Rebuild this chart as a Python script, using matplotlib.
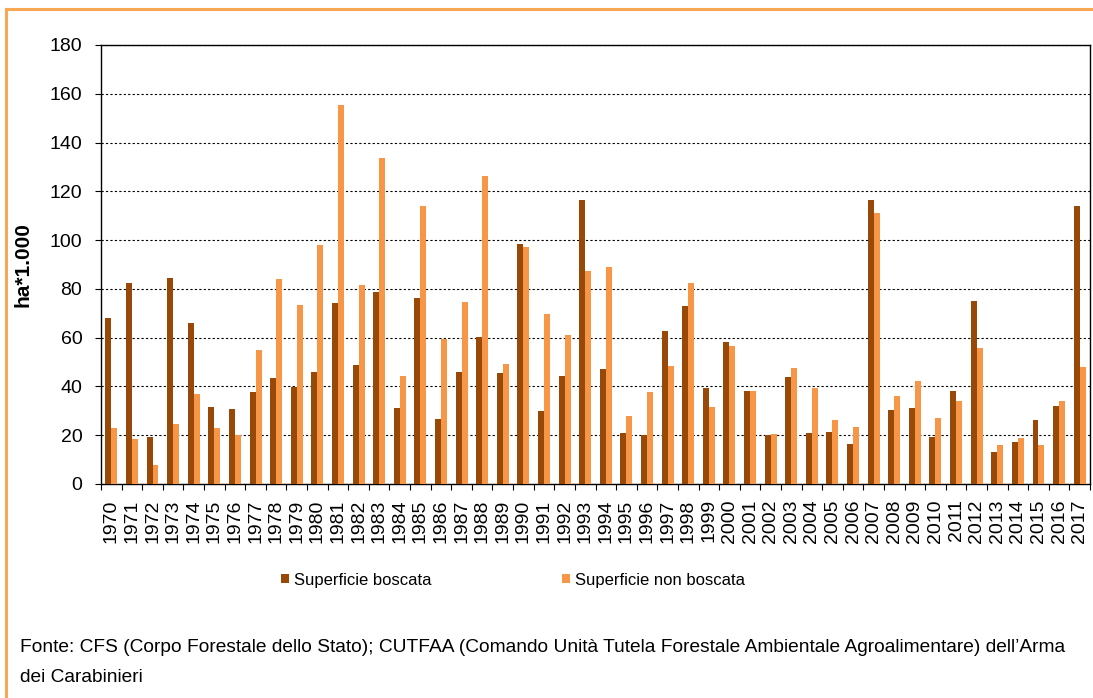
import numpy as np
import matplotlib
matplotlib.use("Agg")
import matplotlib.pyplot as plt
from matplotlib.lines import Line2D

plt.rcParams['font.family'] = ['Liberation Sans', 'DejaVu Sans']

# dati (ha * 1.000)
anni = ['1970', '1971', '1972', '1973', '1974', '1975', '1976', '1977', '1978', '1979',
        '1980', '1981', '1982', '1983', '1984', '1985', '1986', '1987', '1988', '1989',
        '1990', '1991', '1992', '1993', '1994', '1995', '1996', '1997', '1998', '1999',
        '2000', '2001', '2002', '2003', '2004', '2005', '2006', '2007', '2008', '2009',
        '2010', '2011', '2012', '2013', '2014', '2015', '2016', '2017']
boscata = [68.1, 82.3, 19.3, 84.4, 65.9, 31.5, 30.8, 37.8, 43.4, 39.8, 45.8, 74.1,
           48.7, 78.8, 31.1, 76.3, 26.7, 46.0, 60.2, 45.7, 98.4, 30.1, 44.3, 116.4,
           47.1, 21.1, 20.2, 62.8, 73.1, 39.4, 58.3, 38.2, 20.2, 44.0, 20.9, 21.3,
           16.4, 116.4, 30.4, 31.2, 19.2, 38.0, 75.0, 13.0, 17.2, 26.1, 32.0, 114.0]
non_boscata = [23.0, 18.3, 7.9, 24.5, 36.9, 23.0, 20.0, 55.0, 84.1, 73.3, 97.9, 155.5,
               81.7, 133.7, 44.2, 114.1, 59.5, 74.7, 126.1, 49.2, 97.0, 69.5, 61.1, 87.4,
               89.1, 27.9, 37.6, 48.4, 82.5, 31.7, 56.6, 38.2, 20.7, 47.6, 39.4, 26.1,
               23.4, 111.1, 36.0, 42.1, 27.1, 33.9, 55.8, 16.0, 19.0, 16.0, 33.9, 48.0]

fonte1 = ("Fonte: CFS (Corpo Forestale dello Stato); CUTFAA (Comando Unità Tutela Forestale "
          "Ambientale Agroalimentare) dell\u2019Arma")
fonte2 = "dei Carabinieri"

scuro = '#984807'
chiaro = '#F79646'
bordo = '#F8A852'

W, H = 1093, 698
fig = plt.figure(figsize=(W / 100, H / 100), dpi=100)
ax = fig.add_axes([101 / W, 1 - 484 / H, (1090 - 101) / W, (484 - 45) / H])

x = np.arange(len(anni))
w = 0.29
ax.bar(x - w / 2, boscata, w, color=scuro, label='Superficie boscata', zorder=3)
ax.bar(x + w / 2, non_boscata, w, color=chiaro, label='Superficie non boscata', zorder=3)

ax.set_xlim(-0.5, len(anni) - 0.5)
ax.set_ylim(0, 180)
ax.set_yticks(np.arange(0, 181, 20))
ax.yaxis.grid(True, color='black', linestyle=(0, (2, 2)), linewidth=0.8, zorder=0)

ax.set_xticks(x)
ax.set_xticklabels(anni, rotation=90, fontsize=14)
ax.set_xticks(np.arange(-0.5, len(anni), 1), minor=True)
ax.tick_params(axis='x', which='major', length=0, pad=11)
ax.tick_params(axis='x', which='minor', length=4.5, width=0.8)
ax.tick_params(axis='y', length=4.5, width=0.8, pad=9, labelsize=14)

for s in ax.spines.values():
    s.set_linewidth(1)

ax.set_ylabel('ha*1.000', fontsize=15, fontweight='bold')
ax.yaxis.set_label_coords((33 - 101) / (1090 - 101), 0.5)

fig.legend(loc='center left', bbox_to_anchor=(281 / W, 1 - 580 / H), ncol=2, frameon=False,
           fontsize=12, handlelength=0.5, handleheight=0.5, handletextpad=0.3,
           columnspacing=7.8, borderpad=0, borderaxespad=0)

t1 = fig.text(20 / W, 1 - 647 / H, fonte1, fontsize=14, va='center')
t2 = fig.text(20 / W, 1 - 678 / H, fonte2, fontsize=14, va='center')
# adatta la nota alla larghezza del riquadro (~1050 px)
r = fig.canvas.get_renderer()
larg = t1.get_window_extent(r).width
fs = 14 * 1050 / larg
t1.set_fontsize(fs)
t2.set_fontsize(fs)

# cornice arancione
fig.add_artist(Line2D([6 / W, 6 / W], [0, 1 - 9 / H], color=bordo, lw=2.2))
fig.add_artist(Line2D([6 / W, 1], [1 - 9 / H, 1 - 9 / H], color=bordo, lw=2.2))

fig.savefig('out.png', dpi=100)
